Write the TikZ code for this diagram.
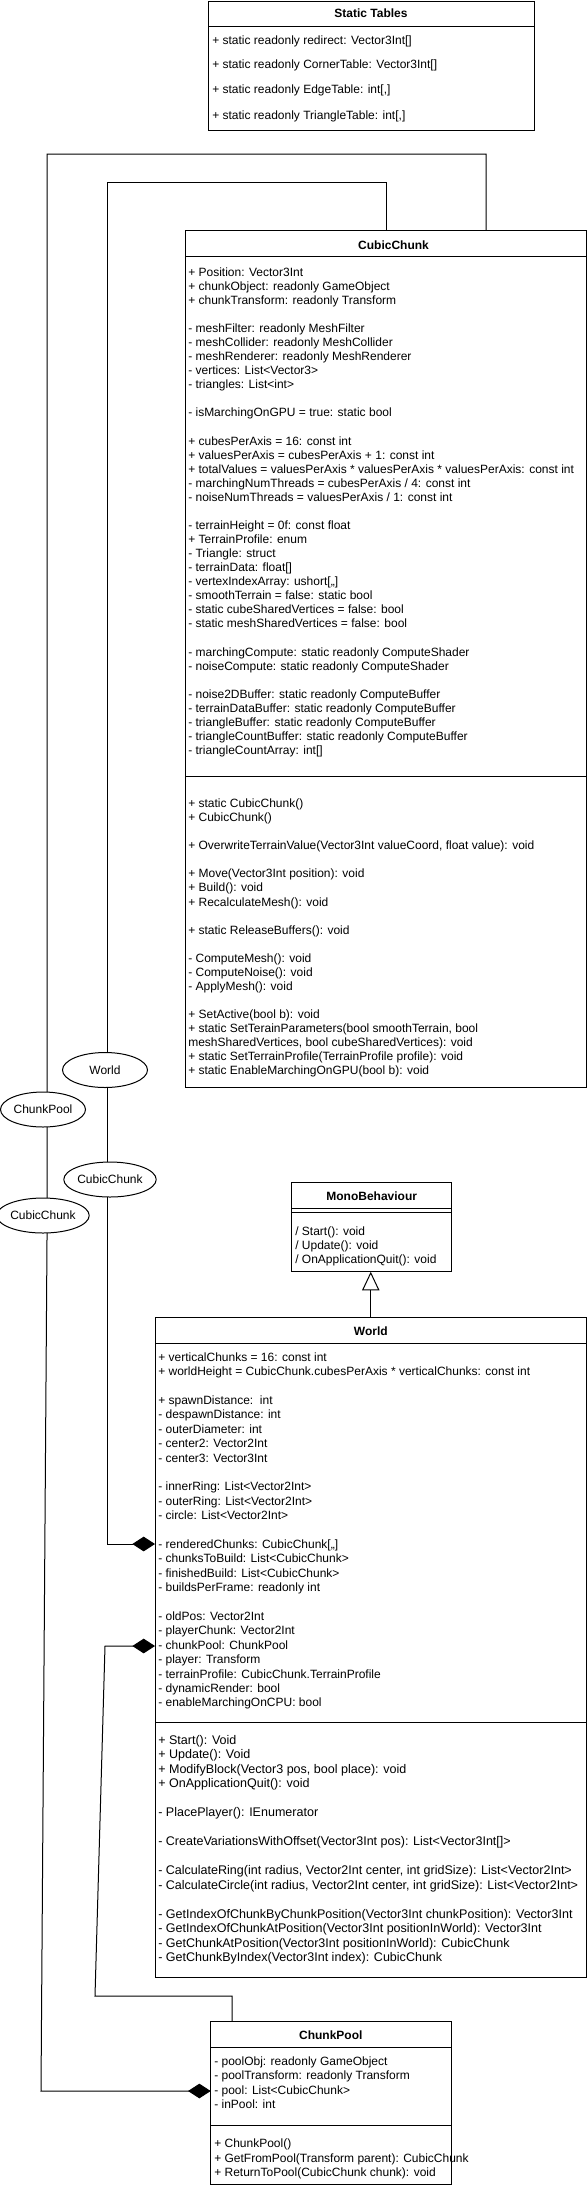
\documentclass[tikz,border=0pt]{standalone}
\usepackage{fontspec}
\setmainfont{Liberation Sans}
\usetikzlibrary{shapes.geometric,arrows.meta}
\begin{document}
\begin{tikzpicture}[x=0.75pt,y=-0.75pt,
  cls/.style n args={2}{draw, line width=0.75pt, inner sep=0pt, outer sep=0pt, anchor=north west, minimum width=#1*0.75pt, minimum height=#2*0.75pt},
  ln/.style={line width=0.75pt},
  ttl/.style={font=\bfseries\fontsize{9pt}{10.8pt}\selectfont, inner sep=0pt, anchor=base},
  txt/.style={font=\fontsize{9pt}{#1}\selectfont, align=left, anchor=base west, inner sep=0pt},
  txt/.default=10.8pt,
  wtxt/.style={font=\fontsize{9.4pt}{#1}\selectfont, align=left, anchor=base west, inner sep=0pt},
  lbl/.style={draw, ellipse, fill=white, line width=0.75pt, inner sep=0pt, font=\fontsize{9pt}{10.8pt}\selectfont, minimum width=85*0.75pt, minimum height=35*0.75pt},
  conn/.style={line width=0.75pt},
  comp/.style={-{Diamond[length=17pt,width=11pt]}},
  inh/.style={-{Triangle[open,length=14pt,width=13pt]}}
]
\useasboundingbox (0,0) rectangle (587,2188);

% ---------- Static Tables ----------
\node[cls={326}{129}] (st) at (208,1) {};
\draw[ln] (208,26) -- (534,26);
\node[ttl] (stt) at (371,17.8) {Static Tables};
\node[txt] (st1) at (212,44.5) {+ static readonly redirect: Vector3Int[]};
\node[txt] (st2) at (212,68.5) {+ static readonly CornerTable: Vector3Int[]};
\node[txt] (st3) at (212,93.8) {+ static readonly EdgeTable: int[,]};
\node[txt] (st4) at (212,119.5) {+ static readonly TriangleTable: int[,]};

% ---------- CubicChunk ----------
\node[cls={401}{857}] (cc) at (185,230) {};
\draw[ln] (185,256) -- (586,256);
\draw[ln] (185,776) -- (586,776);
\node[ttl] (cct) at (393.5,249.5) {CubicChunk};
% base anchor = baseline of the last line
\node[txt=10.55pt] (cca) at (188,754.5) {+ Position: Vector3Int\\
+ chunkObject: readonly GameObject\\
+ chunkTransform: readonly Transform\\
\mbox{}\\
- meshFilter: readonly MeshFilter\\
- meshCollider: readonly MeshCollider\\
- meshRenderer: readonly MeshRenderer\\
- vertices: List<Vector3>\\
- triangles: List<int>\\
\mbox{}\\
- isMarchingOnGPU = true: static bool\\
\mbox{}\\
+ cubesPerAxis = 16: const int\\
+ valuesPerAxis = cubesPerAxis + 1: const int\\
+ totalValues = valuesPerAxis * valuesPerAxis * valuesPerAxis: const int\\
- marchingNumThreads = cubesPerAxis / 4: const int\\
- noiseNumThreads = valuesPerAxis / 1: const int\\
\mbox{}\\
- terrainHeight = 0f: const float\\
+ TerrainProfile: enum\\
- Triangle: struct\\
- terrainData: float[]\\
- vertexIndexArray: ushort[,,]\\
- smoothTerrain = false: static bool\\
- static cubeSharedVertices = false: bool\\
- static meshSharedVertices = false: bool\\
\mbox{}\\
- marchingCompute: static readonly ComputeShader\\
- noiseCompute: static readonly ComputeShader\\
\mbox{}\\
- noise2DBuffer: static readonly ComputeBuffer\\
- terrainDataBuffer: static readonly ComputeBuffer\\
- triangleBuffer: static readonly ComputeBuffer\\
- triangleCountBuffer: static readonly ComputeBuffer\\
- triangleCountArray: int[]};
\node[txt=10.55pt] (ccm) at (188,1074.8) {+ static CubicChunk()\\
+ CubicChunk()\\
\mbox{}\\
+ OverwriteTerrainValue(Vector3Int valueCoord, float value): void\\
\mbox{}\\
+ Move(Vector3Int position): void\\
+ Build(): void\\
+ RecalculateMesh(): void\\
\mbox{}\\
+ static ReleaseBuffers(): void\\
\mbox{}\\
- ComputeMesh(): void\\
- ComputeNoise(): void\\
- ApplyMesh(): void\\
\mbox{}\\
+ SetActive(bool b): void\\
+ static SetTerainParameters(bool smoothTerrain, bool\\
meshSharedVertices, bool cubeSharedVertices): void\\
+ static SetTerrainProfile(TerrainProfile profile): void\\
+ static EnableMarchingOnGPU(bool b): void};

% ---------- MonoBehaviour ----------
\node[cls={160}{89}] (mb) at (291.7,1182.7) {};
\draw[ln] (291.7,1208.3) -- (451.7,1208.3);
\draw[ln] (291.7,1212.3) -- (451.7,1212.3);
\node[ttl] (mbt) at (371.7,1200.3) {MonoBehaviour};
\node[txt=10.5pt] (mbm) at (295,1263.5) {/ Start(): void\\
/ Update(): void\\
/ OnApplicationQuit(): void};

% ---------- World ----------
\node[cls={431.5}{660}] (wd) at (155,1317) {};
\draw[ln] (155,1343.5) -- (586.5,1343.5);
\draw[ln] (155,1722.3) -- (586.5,1722.3);
\node[ttl] (wdt) at (370.8,1335.2) {World};
\node[txt=10.8pt] (wda) at (158,1706.8) {+ verticalChunks = 16: const int\\
+ worldHeight = CubicChunk.cubesPerAxis * verticalChunks: const int\\
\mbox{}\\
+ spawnDistance:\ \ int\\
- despawnDistance: int\\
- outerDiameter: int\\
- center2: Vector2Int\\
- center3: Vector3Int\\
\mbox{}\\
- innerRing: List<Vector2Int>\\
- outerRing: List<Vector2Int>\\
- circle: List<Vector2Int>\\
\mbox{}\\
- renderedChunks: CubicChunk[,,]\\
- chunksToBuild: List<CubicChunk>\\
- finishedBuild: List<CubicChunk>\\
- buildsPerFrame: readonly int\\
\mbox{}\\
- oldPos: Vector2Int\\
- playerChunk: Vector2Int\\
- chunkPool: ChunkPool\\
- player: Transform\\
- terrainProfile: CubicChunk.TerrainProfile\\
- dynamicRender: bool\\
- enableMarchingOnCPU: bool};
\node[wtxt=10.85pt] (wdm) at (158,1961.5) {+ Start(): Void\\
+ Update(): Void\\
+ ModifyBlock(Vector3 pos, bool place): void\\
+ OnApplicationQuit(): void\\
\mbox{}\\
- PlacePlayer(): IEnumerator\\
\mbox{}\\
- CreateVariationsWithOffset(Vector3Int pos): List<Vector3Int[]>\\
\mbox{}\\
- CalculateRing(int radius, Vector2Int center, int gridSize): List<Vector2Int>\\
- CalculateCircle(int radius, Vector2Int center, int gridSize): List<Vector2Int>\\
\mbox{}\\
- GetIndexOfChunkByChunkPosition(Vector3Int chunkPosition): Vector3Int\\
- GetIndexOfChunkAtPosition(Vector3Int positionInWorld): Vector3Int\\
- GetChunkAtPosition(Vector3Int positionInWorld): CubicChunk\\
- GetChunkByIndex(Vector3Int index): CubicChunk};

% ---------- ChunkPool ----------
\node[cls={240.3}{162.3}] (cp) at (210.7,2021.7) {};
\draw[ln] (210.7,2047.3) -- (451,2047.3);
\draw[ln] (210.7,2125.3) -- (451,2125.3);
\node[ttl] (cpt) at (330.8,2039.3) {ChunkPool};
\node[txt=10.8pt] (cpa) at (214,2108.4) {- poolObj: readonly GameObject\\
- poolTransform: readonly Transform\\
- pool: List<CubicChunk>\\
- inPool: int};
\node[txt=10.8pt] (cpm) at (214,2176.6) {+ ChunkPool()\\
+ GetFromPool(Transform parent): CubicChunk\\
+ ReturnToPool(CubicChunk chunk): void};

% ---------- Connectors ----------
\coordinate (a1) at (486,154);
\coordinate (a2) at (47,154);
\coordinate (a3) at (47,1240);
\coordinate (a4) at (41,2091);
\draw[conn,comp] (cc.north -| a1) -- (a1) -- (a2) -- (a3) -- (a4) -- (cp.west |- a4);

\coordinate (b1) at (386,182);
\coordinate (b2) at (107,182);
\coordinate (b3) at (107,1544);
\draw[conn,comp] (cc.north -| b1) -- (b1) -- (b2) -- (b3) -- (wd.west |- b3);

\coordinate (c1) at (232,1996);
\coordinate (c2) at (95,1996);
\coordinate (c3) at (105,1646);
\draw[conn,comp] (cp.north -| c1) -- (c1) -- (c2) -- (c3) -- (wd.west |- c3);

\draw[conn,inh] (wd.north) -- (wd.north |- mb.south);

% ---------- Labels on connectors ----------
\node[lbl] (e1) at (105,1070) {World};
\node[lbl] (e2) at (43,1109.5) {ChunkPool};
\node[lbl] (e3) at (110,1179.5) {CubicChunk};
\node[lbl] (e4) at (43,1215.5) {CubicChunk};
\end{tikzpicture}
\end{document}
